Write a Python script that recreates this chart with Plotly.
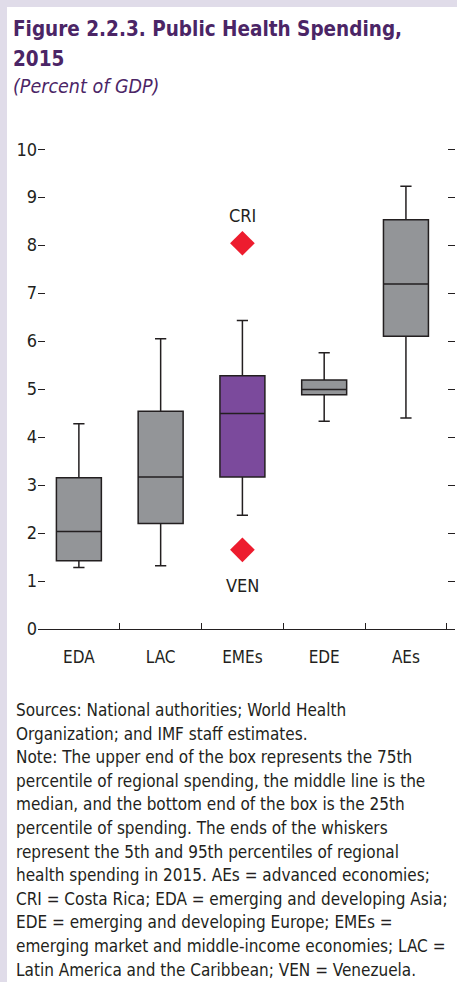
import plotly.graph_objects as go

# ---------------- data ----------------
categories = ["EDA", "LAC", "EMEs", "EDE", "AEs"]
p05 = [1.28, 1.32, 2.37, 4.33, 4.40]
q1 = [1.42, 2.20, 3.17, 4.88, 6.10]
median = [2.03, 3.17, 4.49, 4.99, 7.19]
q3 = [3.15, 4.54, 5.28, 5.19, 8.53]
p95 = [4.28, 6.05, 6.43, 5.76, 9.23]
highlight = "EMEs"

outlier_labels = ["CRI", "VEN"]
outlier_values = [8.04, 1.65]

y_ticks = [0, 1, 2, 3, 4, 5, 6, 7, 8, 9, 10]

title_line1 = "Figure 2.2.3. Public Health Spending,"
title_line2 = "2015"
subtitle = "(Percent of GDP)"
notes = [
    "Sources: National authorities; World Health",
    "Organization; and IMF staff estimates.",
    "Note: The upper end of the box represents the 75th",
    "percentile of regional spending, the middle line is the",
    "median, and the bottom end of the box is the 25th",
    "percentile of spending. The ends of the whiskers",
    "represent the 5th and 95th percentiles of regional",
    "health spending in 2015. AEs = advanced economies;",
    "CRI = Costa Rica; EDA = emerging and developing Asia;",
    "EDE = emerging and developing Europe; EMEs =",
    "emerging market and middle-income economies; LAC =",
    "Latin America and the Caribbean; VEN = Venezuela.",
]

# ---------------- style ----------------
W, H = 457, 982
ML, MR, MT, MB = 38, 2, 138, 353
PW, PH = W - ML - MR, H - MT - MB
FONT = "DejaVu Sans Condensed, Liberation Sans Narrow, sans-serif"
INK = "#231F20"
PURPLE_T = "#4B2566"
GRAY = "#939598"
PURPLE = "#7B4A9C"
RED = "#ED1C2E"
LAV = "#E0DCE9"
px_per_unit = 47.98


def fx(px):
    return (px - ML) / PW


def fy(py):
    return (H - MB - py) / PH


fig = go.Figure()

gray_idx = [i for i, c in enumerate(categories) if c != highlight]
hi_idx = [i for i, c in enumerate(categories) if c == highlight]
for idx, col in ((gray_idx, GRAY), (hi_idx, PURPLE)):
    fig.add_trace(go.Box(
        x=[categories[i] for i in idx],
        q1=[q1[i] for i in idx],
        median=[median[i] for i in idx],
        q3=[q3[i] for i in idx],
        lowerfence=[p05[i] for i in idx],
        upperfence=[p95[i] for i in idx],
        fillcolor=col,
        line=dict(color=INK, width=1.5),
        whiskerwidth=0.25,
        width=0.55,
        boxpoints=False,
        showlegend=False,
        hoverinfo="skip",
    ))

fig.add_trace(go.Scatter(
    x=[highlight] * len(outlier_values),
    y=outlier_values,
    mode="markers",
    marker=dict(symbol="diamond", size=19, color=RED, line=dict(width=0)),
    showlegend=False,
    hoverinfo="skip",
))

annotations = []
for lab, val, shift in zip(outlier_labels, outlier_values, (28, -36)):
    annotations.append(dict(
        x=highlight, y=val, xref="x", yref="y", text=lab, showarrow=False,
        yshift=shift, font=dict(family=FONT, size=18, color=INK),
        xanchor="center", yanchor="middle",
    ))

annotations += [
    dict(x=fx(11), y=fy(29), xref="paper", yref="paper", text="<b>" + title_line1 + "</b>",
         showarrow=False, xanchor="left", yanchor="middle",
         font=dict(family=FONT, size=20.5, color=PURPLE_T)),
    dict(x=fx(11), y=fy(59), xref="paper", yref="paper", text="<b>" + title_line2 + "</b>",
         showarrow=False, xanchor="left", yanchor="middle",
         font=dict(family=FONT, size=20.5, color=PURPLE_T)),
    dict(x=fx(11), y=fy(86), xref="paper", yref="paper", text="<i>" + subtitle + "</i>",
         showarrow=False, xanchor="left", yanchor="middle",
         font=dict(family=FONT, size=19.5, color=PURPLE_T)),
]
for i, line in enumerate(notes):
    annotations.append(dict(
        x=fx(14), y=fy(710 + 23.6 * i), xref="paper", yref="paper", text=line,
        showarrow=False, xanchor="left", yanchor="middle", align="left",
        font=dict(family=FONT, size=17, color=INK)))

shapes = [
    dict(type="rect", xref="paper", yref="paper", x0=fx(7), x1=fx(W + 5), y0=fy(H + 5), y1=fy(7),
         fillcolor="white", line=dict(width=0), layer="below"),
]

fig.update_layout(
    width=W, height=H,
    margin=dict(l=ML, r=MR, t=MT, b=MB, pad=0),
    paper_bgcolor=LAV, plot_bgcolor="rgba(0,0,0,0)",
    boxmode="overlay",
    showlegend=False,
    annotations=annotations,
    shapes=shapes,
    xaxis=dict(
        type="category", categoryorder="array", categoryarray=categories,
        range=[-0.5, 4.6], showgrid=False, zeroline=False,
        showline=True, linecolor=INK, linewidth=1.2,
        ticks="inside", tickson="boundaries", ticklen=6, tickcolor=INK, tickwidth=1,
        tickfont=dict(family=FONT, size=17, color=INK),
        ticklabelstandoff=12,
        fixedrange=True,
    ),
    yaxis=dict(
        range=[0, PH / px_per_unit], tickvals=y_ticks, ticktext=[str(v) for v in y_ticks],
        showgrid=False, zeroline=False, showline=False,
        ticks="inside", ticklen=7, tickcolor=INK, tickwidth=1,
        mirror="ticks",
        tickfont=dict(family=FONT, size=18, color=INK),
        fixedrange=True,
    ),
)

fig.write_html("out.html", config={"displayModeBar": False},
               post_script="document.body.style.margin='0';")
